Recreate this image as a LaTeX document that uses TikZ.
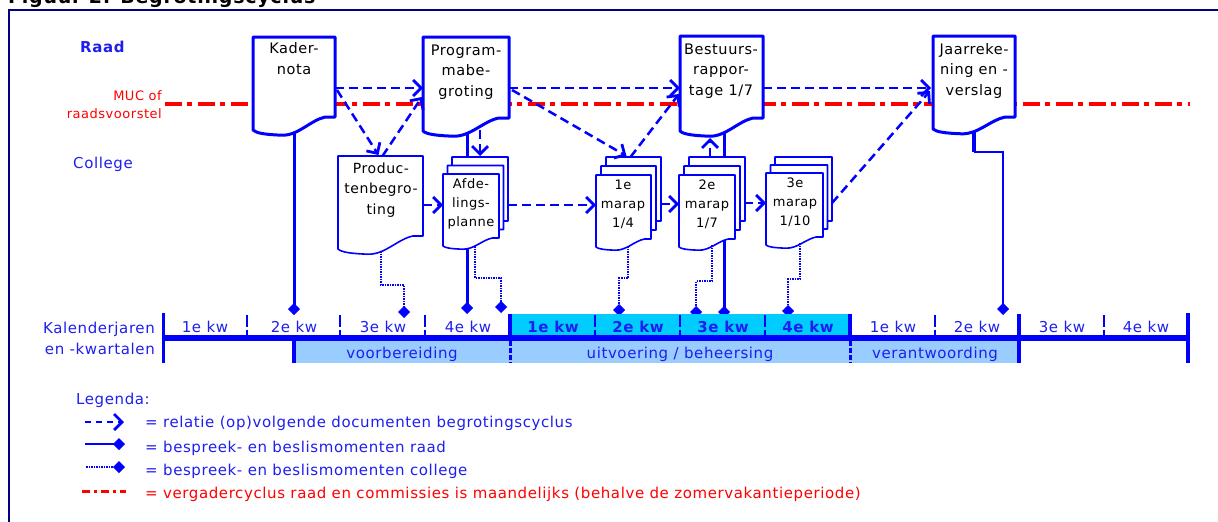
\documentclass[tikz,border=0pt]{standalone}
\usepackage{fontspec}
\setmainfont[LetterSpace=4]{DejaVu Sans}
\usetikzlibrary{arrows.meta,calc}
\definecolor{mb}{RGB}{0,0,255}
\definecolor{tb}{RGB}{30,30,240}
\definecolor{navyc}{RGB}{0,0,128}
\definecolor{cyanq}{RGB}{0,204,255}
\definecolor{bandc}{RGB}{153,204,255}
\definecolor{rd}{RGB}{255,0,0}
% document shape: style, x, y, w, h, wave
\newcommand\docshape[6][]{%
 \draw[#1] (#2,#3) -- ({#2+#4},#3) -- ({#2+#4},{#3+#5}) -- ({#2+0.88*#4},{#3+#5})
  .. controls ({#2+0.7*#4},{#3+#5+0.25*#6}) and ({#2+0.55*#4},{#3+#5+1.45*#6}) .. ({#2+0.35*#4},{#3+#5+1.4*#6})
  .. controls ({#2+0.15*#4},{#3+#5+1.35*#6}) and ({#2+0.04*#4},{#3+#5+1.25*#6}) .. (#2,{#3+#5+#6}) -- cycle;}
\tikzset{
  docbox/.style={inner sep=0pt, outer sep=0pt, anchor=north west, rectangle},
  bigdoc/.style={draw=mb, line width=3pt, fill=white, line join=round},
  smalldoc/.style={draw=mb, line width=1.6pt, fill=white, line join=round},
  rel/.style={draw=mb, line width=2.5pt, dash pattern=on 9pt off 5pt, -{Straight Barb[length=8pt,width=16pt,line width=2.8pt]}},
  raad/.style={draw=mb, line width=3pt, -{Diamond[length=12pt,width=12pt,line width=1pt]}},
  coll/.style={draw=mb, line width=2pt, dash pattern=on 1.5pt off 1pt, -{Diamond[length=12pt,width=12pt,line width=1pt]}},
  bigtxt/.style={text=black, align=center, inner sep=0pt, font=\fontsize{14.5}{20.5}\selectfont, anchor=base},
  midtxt/.style={text=black, align=center, inner sep=0pt, font=\fontsize{14}{20.5}\selectfont, anchor=base},
  smalltxt/.style={text=black, align=center, inner sep=0pt, font=\fontsize{13}{19}\selectfont, anchor=base},
  lbl/.style={text=tb, inner sep=0pt, font=\fontsize{15}{18}\selectfont},
  qlbl/.style={lbl, anchor=base},
  qbold/.style={lbl, anchor=base, font=\bfseries\fontsize{15}{18}\selectfont},
  upt/.style={draw=mb, line width=2.5pt, dash pattern=on 12pt off 2.5pt},
  solt/.style={draw=mb, line width=4pt},
  lowt/.style={draw=mb, line width=3pt, dash pattern=on 5pt off 2pt},
  redline/.style={draw=rd, line width=4pt, dash pattern=on 17pt off 5pt on 5pt off 6pt},
}
\begin{document}
\begin{tikzpicture}[x=1pt,y=-1pt]
\useasboundingbox (0,0) rectangle (1218,522);
% frame and title
\draw[navyc, line width=2pt] (9,530) -- (9,10) -- (1225,10);
\node[anchor=base west, inner sep=0pt, font=\bfseries\fontsize{19}{24}\selectfont] (title) at (8,3) {Figuur 2: Begrotingscyclus};
% side labels
\node[lbl, anchor=base west, font=\bfseries\fontsize{15}{18}\selectfont] (raadl) at (80,52) {Raad};
\node[anchor=base east, inner sep=0pt, text=rd, font=\fontsize{13}{16}\selectfont] (muc1) at (162,100) {MUC of};
\node[anchor=base east, inner sep=0pt, text=rd, font=\fontsize{13}{16}\selectfont] (muc2) at (162,118) {raadsvoorstel};
\node[lbl, anchor=base west] (collegel) at (73,168) {College};
% red meeting line
\coordinate (redA) at (165,104);
\coordinate (redB) at (1190,104);
\draw[redline] (redA) -- (redB);
% invisible document nodes
\foreach \n/\x/\y/\w/\h in {kader/253/37/82/80, prog/423/37/86/81, best/680/36/83/82, jaar/933/36/82/81, prod/338/156/85/80, afd/443/174/56/64, m1/596/175/55/64, m2/679/175/56/64, m3/766/173/57/64}
  \node[docbox, minimum width=\w pt, minimum height=\h pt] (\n) at (\x,\y) {};
% diamond end points
\coordinate (d-kader) at (294,315);
\coordinate (d-prog) at (467,314);
\coordinate (d-best) at (724,318);
\coordinate (d-jaar) at (1003,315);
\coordinate (d-prod) at (404,318);
\coordinate (d-afd) at (501,313);
\coordinate (d-m1) at (619,316);
\coordinate (d-m2) at (696,318);
\coordinate (d-m3) at (788,317);
% raad lines (behind documents)
\draw[raad] ($(kader.south)+(0,14)$) -- (d-kader);
\draw[raad] ($(prog.south)+(1,15)$) -- (d-prog);
\draw[raad] ($(best.south)+(2.5,12)$) -- (d-best);
\coordinate (j1) at ($(jaar.south)+(0,35)$);
\draw[mb, line width=4pt] ($(jaar.south)+(0,12)$) -- (j1);
\draw[raad, line width=2pt] (j1) -- ($(j1)+(29,0)$) -- (d-jaar);
% big documents
\docshape[bigdoc]{253}{37}{82}{80}{13}
\docshape[bigdoc]{423}{37}{86}{81}{13}
\docshape[bigdoc]{680}{36}{83}{82}{13}
\docshape[bigdoc]{933}{36}{82}{81}{12}
\docshape[smalldoc]{338}{156}{85}{80}{13}
% stacks
\docshape[smalldoc]{452}{157}{56}{64}{8}
\docshape[smalldoc]{447.5}{165.5}{56}{64}{8}
\docshape[smalldoc]{443}{174}{56}{64}{8}
\docshape[smalldoc]{606}{157}{55}{64}{8}
\docshape[smalldoc]{601}{166}{55}{64}{8}
\docshape[smalldoc]{596}{175}{55}{64}{8}
\docshape[smalldoc]{689}{157}{56}{64}{8}
\docshape[smalldoc]{684}{166}{56}{64}{8}
\docshape[smalldoc]{679}{175}{56}{64}{8}
\docshape[smalldoc]{775}{157}{57}{64}{8}
\docshape[smalldoc]{770.5}{165}{57}{64}{8}
\docshape[smalldoc]{766}{173}{57}{64}{8}
% document texts (anchor base = last line)
\node[bigtxt] (kader-t) at (294,74) {Kader-\\nota};
\node[bigtxt] (prog-t) at (466,96) {Program-\\mabe-\\groting};
\node[bigtxt] (best-t) at (721,95) {Bestuurs-\\rappor-\\tage 1/7};
\node[bigtxt] (jaar-t) at (974,95) {Jaarreke-\\ning en -\\verslag};
\node[midtxt] (prod-t) at (381,214) {Produc-\\tenbegro-\\ting};
\node[smalltxt] (afd-t) at (471,226) {Afde-\\lings-\\planne};
\node[smalltxt] (m1-t) at (623,227) {1e\\marap\\1/4};
\node[smalltxt] (m2-t) at (707,227) {2e\\marap\\1/7};
\node[smalltxt] (m3-t) at (795,225) {3e\\marap\\1/10};
% relation arrows
\draw[rel] ($(kader.north east)+(0,51)$) -- ($(prog.north west)+(0,51)$);
\draw[rel] ($(kader.north east)+(2,53)$) -- ($(prod.north)+(-2,-1)$);
\draw[rel] ($(prod.north)+(2,0)$) -- ($(prog.north west)+(-1,60)$);
\draw[rel] ($(prog.south)+(14,12)$) -- ($(afd.north)+(9,-18)$);
\draw[rel] ($(prod.north east)+(0,49)$) -- ($(afd.north west)+(0,31)$);
\draw[rel] ($(afd.north east)+(9,31)$) -- ($(m1.north west)+(0,30)$);
\draw[rel] ($(m1.north east)+(10,29)$) -- ($(m2.north west)+(0,29)$);
\draw[rel] ($(m2.north east)+(9,28)$) -- ($(m3.north west)+(0,30)$);
\draw[rel] ($(prog.north east)+(0,51)$) -- ($(best.north west)+(0,52)$);
\draw[rel] ($(prog.north east)+(3,53)$) -- ($(m1.north)+(3,-19)$);
\draw[rel] ($(m1.north)+(7,-18)$) -- ($(best.north west)+(-1,58)$);
\draw[rel] ($(m2.north)+(3,-18)$) -- ($(best.south)+(-11.5,20)$);
\draw[rel] ($(best.north east)+(0,52)$) -- ($(jaar.north west)+(-2,52)$);
\draw[rel] ($(m3.north east)+(9,30)$) -- ($(jaar.north west)+(-3,55)$);
% college lines
\draw[coll] ($(prod.south)+(0.5,15)$) |- ($(d-prod)+(0,-33)$) -- (d-prod);
\draw[coll] ($(afd.south)+(4,8)$) |- ($(d-afd)+(0,-35)$) -- (d-afd);
\draw[coll] ($(m1.south)+(4.5,7)$) |- ($(d-m1)+(0,-38)$) -- (d-m1);
\draw[coll] ($(m2.south)+(5,6)$) |- ($(d-m2)+(0,-37)$) -- (d-m2);
\draw[coll] ($(m3.south)+(5.5,6)$) |- ($(d-m3)+(0,-38)$) -- (d-m3);
% timeline
\fill[cyanq] (510,314) rectangle (850,335);
\fill[bandc] (294,340) rectangle (1019,363);
\draw[mb, line width=6pt] (163,337.5) -- (1188,337.5);
\draw[mb, line width=3pt] (163,313) -- (163,363);
\draw[mb, line width=4pt] (1188,313) -- (1188,363);
\foreach \x in {247,340,425,595,680,765,935,1104} \draw[upt] (\x,315) -- (\x,335);
\foreach \x in {510,850,1019} \draw[solt] (\x,314) -- (\x,335);
\draw[solt] (294,340) -- (294,363);
\draw[solt] (1019,340) -- (1019,363);
\draw[lowt] (510,341) -- (510,363);
\draw[lowt] (850,341) -- (850,363);
\node[lbl, anchor=base east] (kal1) at (155,333) {Kalenderjaren};
\node[lbl, anchor=base east] (kal2) at (155,354) {en -kwartalen};
\node[qlbl] (q1) at (205,332.5) {1e kw};
\node[qlbl] (q2) at (294,332.5) {2e kw};
\node[qlbl] (q3) at (383,332.5) {3e kw};
\node[qlbl] (q4) at (468,332.5) {4e kw};
\node[qbold] (q5) at (553,332.5) {1e kw};
\node[qbold] (q6) at (638,332.5) {2e kw};
\node[qbold] (q7) at (723,332.5) {3e kw};
\node[qbold] (q8) at (808,332.5) {4e kw};
\node[qlbl] (q9) at (893,332.5) {1e kw};
\node[qlbl] (q10) at (977,332.5) {2e kw};
\node[qlbl] (q11) at (1062,332.5) {3e kw};
\node[qlbl] (q12) at (1146,332.5) {4e kw};
\node[qlbl] (b1) at (402,358) {voorbereiding};
\node[qlbl] (b2) at (680,358) {uitvoering / beheersing};
\node[qlbl] (b3) at (935,358) {verantwoording};
% legend
\node[lbl, anchor=base west] (leg) at (76,404) {Legenda:};
\coordinate (l1a) at (85,422); \coordinate (l1b) at (124,422);
\coordinate (l2a) at (85,444); \coordinate (l2b) at (125,444);
\coordinate (l3a) at (86,467); \coordinate (l3b) at (125,467);
\coordinate (l4a) at (82,491); \coordinate (l4b) at (126,491);
\draw[rel, dash pattern=on 6pt off 5pt] (l1a) -- (l1b);
\draw[raad, line width=2.5pt] (l2a) -- (l2b);
\draw[coll] (l3a) -- (l3b);
\draw[draw=rd, line width=3pt, dash pattern=on 8pt off 4pt on 3pt off 4pt] (l4a) -- (l4b);
\node[lbl, anchor=base west] (leg1) at (145,427) {= relatie (op)volgende documenten begrotingscyclus};
\node[lbl, anchor=base west] (leg2) at (145,452) {= bespreek- en beslismomenten raad};
\node[lbl, anchor=base west] (leg3) at (145,475) {= bespreek- en beslismomenten college};
\node[lbl, anchor=base west, text=rd] (leg4) at (145,498) {= vergadercyclus raad en commissies is maandelijks (behalve de zomervakantieperiode)};
\end{tikzpicture}
\end{document}
